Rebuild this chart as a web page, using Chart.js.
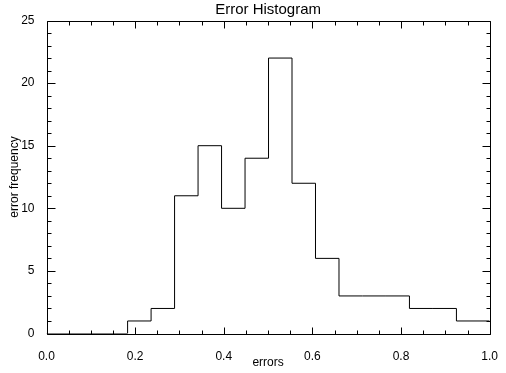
<!DOCTYPE html>
<html>
<head>
<meta charset="utf-8">
<script src="https://cdn.jsdelivr.net/npm/chart.js@4/dist/chart.umd.min.js"></script>
<style>
  html, body { margin: 0; padding: 0; background: #fff; }
  #wrap { width: 506px; height: 373px; }
</style>
</head>
<body>
<div id="wrap"><canvas id="histChart" width="506" height="373"></canvas></div>
<script>
// left edges of the bins
var binEdges = [0.0, 0.183, 0.236, 0.289, 0.342, 0.395, 0.448, 0.501, 0.554, 0.607, 0.660, 0.713, 0.766, 0.819, 0.872, 0.925, 1.0];
var counts   = [0,   1,     2,     11,    15,    10,    14,    22,    12,    6,     3,     3,     3,     2,     2,     1,     1];
var xTicks = [0.0, 0.2, 0.4, 0.6, 0.8, 1.0];
var yTicks = [0, 5, 10, 15, 20, 25];

var font = "'Liberation Sans', Arial, sans-serif";

// each point: left edge of the bin, count of the bin
var points = [];
for (var i = 0; i < binEdges.length; i++) {
    points.push({x: binEdges[i], y: counts[i]});
}

// IDL style frame: box plus inward ticks on every side
var idlFrame = {
    id: 'idlFrame',
    afterDraw: function(chart){
        var ctx = chart.ctx;
        var a = chart.chartArea;
        var xs = chart.scales.x, ys = chart.scales.y;
        var L = Math.round(a.left) + 0.5, R = Math.round(a.right) + 0.5;
        var T = Math.round(a.top) + 0.5, B = Math.round(a.bottom) + 0.5;
        ctx.save();
        ctx.strokeStyle = '#000';
        ctx.lineWidth = 1;
        ctx.beginPath();
        ctx.rect(L, T, R - L, B - T);
        // x ticks, minor every 0.05
        for (var k = 0; k <= 20; k++) {
            var v = k * 0.05;
            var px = Math.round(xs.getPixelForValue(v)) + 0.5;
            var len = (k % 4 === 0) ? 7 : 4;
            ctx.moveTo(px, B); ctx.lineTo(px, B - len);
            ctx.moveTo(px, T); ctx.lineTo(px, T + len);
        }
        // y ticks, minor every 1
        for (var j = 0; j <= 25; j++) {
            var py = Math.round(ys.getPixelForValue(j)) + 0.5;
            var ylen = (j % 5 === 0) ? 8 : 4;
            ctx.moveTo(L, py); ctx.lineTo(L + ylen, py);
            ctx.moveTo(R, py); ctx.lineTo(R - ylen, py);
        }
        ctx.stroke();
        ctx.restore();
    }
};

var ctx = document.getElementById('histChart').getContext('2d');
var histChart = new Chart(ctx, {
    type: 'line',
    data: {
        datasets: [{
            label: 'errors',
            data: points,
            stepped: 'before',
            borderColor: '#000',
            borderWidth: 1,
            pointRadius: 0,
            fill: false,
            tension: 0
        }]
    },
    options: {
        responsive: false,
        animation: false,
        devicePixelRatio: 1,
        layout: { padding: { left: 0, right: 16, top: 0, bottom: 0 } },
        plugins: {
            legend: { display: false },
            tooltip: { enabled: false }
        },
        scales: {
            x: {
                type: 'linear',
                min: 0, max: 1,
                afterFit: function(s){ s.height = 39.5; },
                afterBuildTicks: function(s){ s.ticks = xTicks.map(function(v){ return {value: v}; }); },
                ticks: {
                    color: '#000',
                    font: { family: font, size: 12 },
                    padding: 8,
                    maxRotation: 0,
                    callback: function(v){ return v.toFixed(1); }
                },
                grid: { display: false },
                border: { display: false },
                title: {
                    display: true,
                    text: 'errors',
                    color: '#000',
                    font: { family: font, size: 12 },
                    padding: { top: 0, bottom: 3 }
                }
            },
            // top axis only carries the plot title, centred over the plot box
            xTop: {
                type: 'linear',
                position: 'top',
                min: 0, max: 1,
                afterFit: function(s){ s.height = 20.5; },
                ticks: { display: false },
                grid: { display: false, drawTicks: false },
                border: { display: false },
                title: {
                    display: true,
                    text: 'Error Histogram',
                    color: '#000',
                    font: { family: font, size: 15 },
                    padding: { top: 1, bottom: 0 }
                }
            },
            y: {
                type: 'linear',
                min: 0, max: 25,
                afterFit: function(s){ s.width = 46.5; },
                afterBuildTicks: function(s){ s.ticks = yTicks.map(function(v){ return {value: v}; }); },
                ticks: {
                    color: '#000',
                    font: { family: font, size: 12 },
                    padding: 4,
                    callback: function(v){ return String(v); }
                },
                grid: { display: false },
                border: { display: false },
                title: {
                    display: true,
                    text: 'error frequency',
                    color: '#000',
                    font: { family: font, size: 12 },
                    padding: { top: 7, bottom: 0 }
                }
            }
        }
    },
    plugins: [idlFrame]
});
</script>
</body>
</html>
